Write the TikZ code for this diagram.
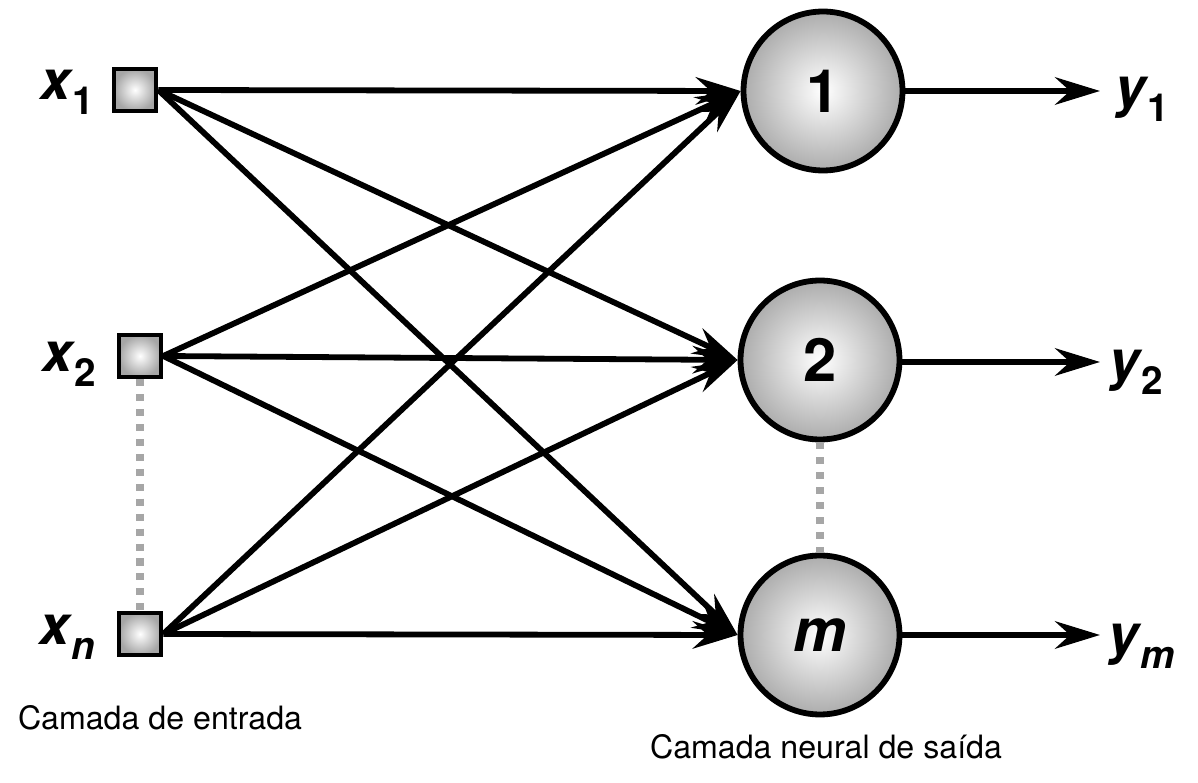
\documentclass[tikz,border=0pt]{standalone}
\usepackage{fontspec}
\setmainfont{TeX Gyre Heros}
\usetikzlibrary{arrows.meta}

\newcommand{\varlbl}[2]{{\fontsize{31}{31}\selectfont\bfseries\itshape #1}\kern1pt\raisebox{-8.5pt}{\fontsize{22}{22}\selectfont\bfseries #2}}

\tikzset{
  inbox/.style={draw, line width=2.6pt, minimum size=0.84cm, inner sep=0pt, shading=radial, inner color=white, outer color=gray!70},
  neuron/.style={circle, draw, line width=3.3pt, minimum size=3.18cm, inner sep=0pt, shading=radial, inner color=white, outer color=gray!65, font=\fontsize{34}{34}\selectfont\bfseries},
  syn/.style={line width=3.3pt, -{Stealth[length=0.9cm, width=0.55cm, inset=0.3cm]}},
  gap/.style={draw=gray!70, line width=4.5pt, dash pattern=on 4pt off 4.5pt},
  varname/.style={anchor=base, inner sep=0pt},
  caption/.style={font=\fontsize{18.3}{22}\selectfont},
}

\begin{document}
\begin{tikzpicture}[x=0.02cm, y=-0.02cm]
\useasboundingbox (0,0) rectangle (1198,783);

% camada de entrada
\node[inbox] (x1) at (135,90) {};
\node[inbox] (x2) at (140,356) {};
\node[inbox] (xn) at (140,634) {};
\node[varname] (lx1) at (67,100) {\varlbl{x}{1}};
\node[varname] (lx2) at (69,372) {\varlbl{x}{2}};
\node[varname] (lxn) at (67,645) {\varlbl{x}{\itshape n}};
\draw[gap] (x2.south) -- (xn.north);

% camada neural de saida
\node[neuron] (n1) at (823,91) {1};
\node[neuron] (n2) at (820,360) {2};
\node[neuron] (nm) at (820,635) {\itshape m};
\draw[gap] (n2.south) -- (nm.north);

% ligacoes
\foreach \i in {x1,x2,xn}
  \foreach \j in {n1,n2,nm}
    \draw[syn] (\i.east) -- (\j.west);

% saidas
\coordinate (t1) at (1100,91);
\coordinate (t2) at (1100,362);
\coordinate (tm) at (1100,635);
\draw[syn] (n1.east) -- (t1);
\draw[syn] (n2.east |- t2) -- (t2);
\draw[syn] (nm.east) -- (tm);
\node[varname] (ly1) at (1142,107) {\varlbl{y}{1}};
\node[varname] (ly2) at (1136,380) {\varlbl{y}{2}};
\node[varname] (lym) at (1142,654) {\varlbl{y}{\itshape m}};

\node[caption] (lin) at (160,718) {Camada de entrada};
\node[caption] (lout) at (826,747) {Camada neural de saída};
\end{tikzpicture}
\end{document}
